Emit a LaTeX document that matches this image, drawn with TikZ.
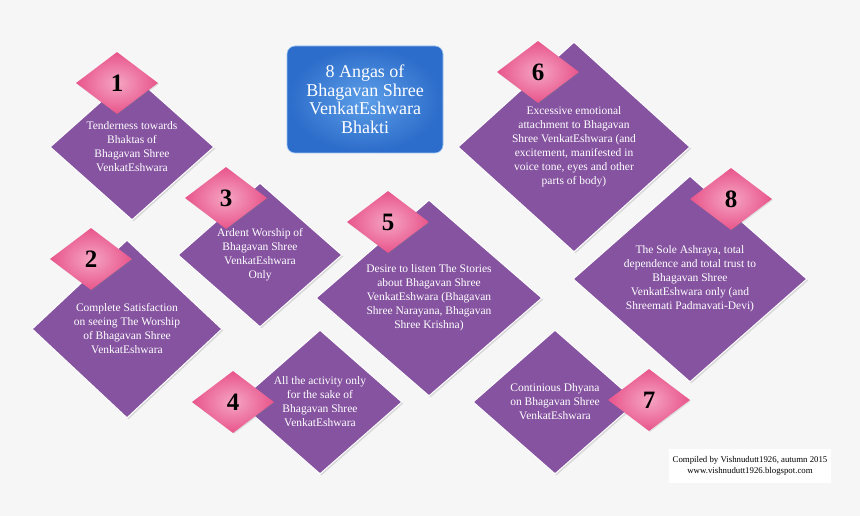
\documentclass[tikz,border=0pt]{standalone}
\usepackage{fontspec}
\setmainfont{Liberation Serif}
\usetikzlibrary{shapes.geometric, shadows, positioning}

\definecolor{bgc}{RGB}{246,246,246}
\definecolor{purp}{RGB}{133,83,160}
\definecolor{pinkin}{RGB}{245,165,195}
\definecolor{pinkout}{RGB}{232,84,138}
\definecolor{bluein}{RGB}{92,158,232}
\definecolor{blueout}{RGB}{44,108,202}

\begin{document}
\begin{tikzpicture}[x=1pt, y=-1pt, line join=round,
    card/.style={diamond, fill=purp, draw=white, line width=1pt, inner sep=0pt,
        drop shadow={opacity=0.25, shadow xshift=1.5pt, shadow yshift=-1.5pt}},
    cardtext/.style={text=white, align=center, font=\fontsize{11.5}{14}\selectfont},
    num/.style={diamond, inner sep=0pt, minimum width=82pt, minimum height=62pt,
        shading=radial, inner color=pinkin, outer color=pinkout, text=black,
        font=\fontsize{25}{25}\selectfont\bfseries,
        drop shadow={opacity=0.2, shadow xshift=1pt, shadow yshift=-1pt}}]

    \fill[bgc] (0,0) rectangle (860,516);
    \useasboundingbox (0,0) rectangle (860,516);

    \coordinate (P1) at (132,147);
    \coordinate (P2) at (127,329);
    \coordinate (P3) at (260,255);
    \coordinate (P4) at (320,402);
    \coordinate (P5) at (429,298);
    \coordinate (P6) at (574,147);
    \coordinate (P7) at (555,402);
    \coordinate (P8) at (690,279);

    % purple cards
    \node[card, minimum width=164pt, minimum height=146pt] (c1) at (P1) {};
    \node[card, minimum width=190pt, minimum height=178pt] (c2) at (P2) {};
    \node[card, minimum width=164pt, minimum height=144pt] (c3) at (P3) {};
    \node[card, minimum width=164pt, minimum height=144pt] (c4) at (P4) {};
    \node[card, minimum width=226pt, minimum height=196pt] (c5) at (P5) {};
    \node[card, minimum width=232pt, minimum height=210pt] (c6) at (P6) {};
    \node[card, minimum width=164pt, minimum height=144pt] (c7) at (P7) {};
    \node[card, minimum width=234pt, minimum height=206pt] (c8) at (P8) {};

    \node[cardtext] (t1) at (c1) {Tenderness towards\\Bhaktas of\\Bhagavan Shree\\VenkatEshwara};
    \node[cardtext] (t2) at (c2) {Complete Satisfaction\\on seeing The Worship\\of Bhagavan Shree\\VenkatEshwara};
    \node[cardtext] (t3) at (c3) {Ardent Worship of\\Bhagavan Shree\\VenkatEshwara\\Only};
    \node[cardtext] (t4) at (c4) {All the activity only\\for the sake of\\Bhagavan Shree\\VenkatEshwara};
    \node[cardtext] (t5) at (c5) {Desire to listen The Stories\\about Bhagavan Shree\\VenkatEshwara (Bhagavan\\Shree Narayana, Bhagavan\\Shree Krishna)};
    \node[cardtext] (t6) at (c6) {Excessive emotional\\attachment to Bhagavan\\Shree VenkatEshwara (and\\excitement, manifested in\\voice tone, eyes and other\\parts of body)};
    \node[cardtext] (t7) at (c7) {Continious Dhyana\\on Bhagavan Shree\\VenkatEshwara};
    \node[cardtext] (t8) at (c8) {The Sole Ashraya, total\\dependence and total trust to\\Bhagavan Shree\\VenkatEshwara only (and\\Shreemati Padmavati-Devi)};

    % number badges
    \node[num] (n1) at (117,83) {1};
    \node[num] (n2) at (91,259) {2};
    \node[num] (n3) at (226,198) {3};
    \node[num] (n4) at (233,402) {4};
    \node[num] (n5) at (388,222) {5};
    \node[num] (n6) at (538,72) {6};
    \node[num] (n7) at (649,400) {7};
    \node[num] (n8) at (731,199) {8};

    % title
    \node[rectangle, rounded corners=8pt, minimum width=156pt, minimum height=107pt,
        shading=radial, inner color=bluein, outer color=blueout, draw=bluein!60!white,
        line width=0.6pt, text=white, align=center,
        font=\fontsize{18}{18.5}\selectfont] (title) at (365,99.5)
        {8 Angas of\\Bhagavan Shree\\VenkatEshwara\\Bhakti};

    % credit
    \node[rectangle, fill=white, minimum width=160pt, minimum height=34pt, align=center,
        font=\fontsize{8.8}{11.5}\selectfont] (credit) at (750,466)
        {Compiled by Vishnudutt1926, autumn 2015\\www.vishnudutt1926.blogspot.com};
\end{tikzpicture}
\end{document}
